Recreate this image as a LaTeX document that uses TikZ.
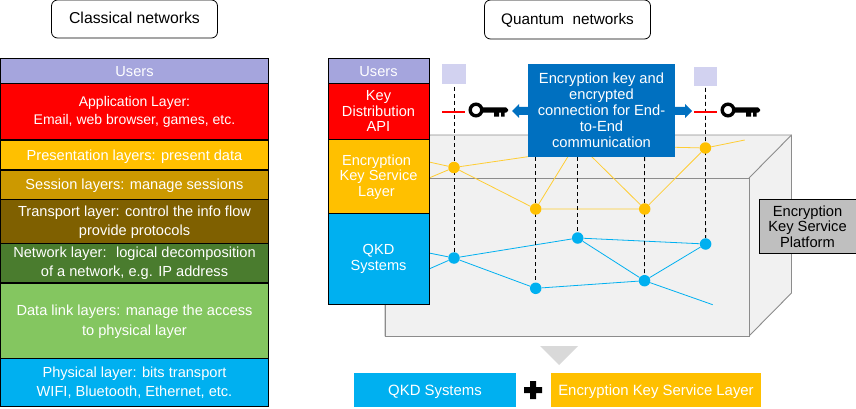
\documentclass[tikz,border=0pt]{standalone}
\usepackage{fontspec}
\setmainfont{Liberation Sans}
\pgfdeclarelayer{under}
\pgfsetlayers{under,main}
\tikzset{
 layer/.style={draw=black,line width=1pt,text=white,font=\fontsize{14.6}{18.5}\selectfont,align=center,inner sep=0pt},
 midlayer/.style={layer,font=\fontsize{14.6}{15.8}\selectfont},
 title/.style={draw=black,rounded corners=6pt,line width=0.8pt,inner sep=0pt},
 flat/.style={text=white,font=\fontsize{14.9}{18}\selectfont,align=center,inner sep=0pt},
 cube/.style={draw=cubeedge,line width=0.9pt,fill=cubefill},
 ylink/.style={draw=ylw!80!white,line width=0.8pt},
 blink/.style={draw=cyn,line width=0.8pt},
 vdash/.style={draw=black,line width=0.8pt,dash pattern=on 4pt off 3pt},
 ydot/.style={circle,fill=ylw,minimum size=11.5pt,inner sep=0pt},
 bdot/.style={circle,fill=cyn,minimum size=11.5pt,inner sep=0pt},
 ubox/.style={fill=paleu,inner sep=0pt},
 redbar/.style={draw=red,line width=1.8pt},
}
\definecolor{cubefill}{HTML}{F1F1F1}
\definecolor{cubeedge}{HTML}{8C8C8C}
\definecolor{ylw}{HTML}{FFC000}
\definecolor{cyn}{HTML}{00B0F0}
\definecolor{usr}{HTML}{A5A5DD}
\definecolor{paleu}{HTML}{D2D2F0}
\definecolor{sess}{HTML}{CC9900}
\definecolor{trans}{HTML}{7F6000}
\definecolor{netw}{HTML}{4A7C2E}
\definecolor{dlink}{HTML}{84C660}
\definecolor{blu}{HTML}{0070C0}
\definecolor{plat}{HTML}{BFBFBF}
\newcommand{\lowered}[2]{\raisebox{-#1pt}[\height][\depth]{#2}}
\newcommand{\keyicon}[2]{%
 \begin{scope}[shift={(#1,#2)}]
  \draw[black,line width=3.4pt] (8,0) circle (5.8);
  \fill[black] (14,-2.7) -- (38,-2.7) -- (40,-0.5) -- (40,1) -- (38,2.7) -- (36.5,2.7) -- (36.5,6.7) -- (33,6.7) -- (33,2.7) -- (31,2.7) -- (31,6.7) -- (26,6.7) -- (26,2.7) -- (14,2.7) -- cycle;
 \end{scope}}
\begin{document}
\begin{tikzpicture}[x=1pt,y=-1pt]
\useasboundingbox (0,0) rectangle (856,409);
% titles
\node[title,font=\fontsize{15.8}{18}\selectfont,minimum width=166pt,minimum height=38pt] (tc) at (134.5,19) {\lowered{-0.7}{Classical networks}};
\node[title,font=\fontsize{15.3}{18}\selectfont,minimum width=166pt,minimum height=39pt] (tq) at (567.5,19.5) {\lowered{0.5}{Quantum~ networks}};
% classical stack
\node[layer,fill=usr,minimum width=268pt,minimum height=25pt] (cu) at (134.5,71) {\lowered{1}{Users}};
\node[layer,fill=red,minimum width=268pt,minimum height=56pt,font=\fontsize{14}{18.5}\selectfont] (ca) at (134.5,111.5) {\lowered{0.7}{Application Layer:}\\Email, web browser, games, etc.};
\node[layer,fill=ylw,minimum width=268pt,minimum height=29pt] (cp) at (134.5,155) {\lowered{1.5}{Presentation layers: present data}};
\node[layer,fill=sess,minimum width=268pt,minimum height=29pt] (cs) at (134.5,184.5) {\lowered{1.5}{Session layers: manage sessions}};
\node[layer,fill=trans,minimum width=268pt,minimum height=44pt] (ct) at (134.5,221.5) {Transport layer: control the info flow\\\lowered{0.7}{provide protocols}};
\node[layer,fill=netw,minimum width=268pt,minimum height=39pt] (cn) at (134.5,263) {Network layer:~ logical decomposition\\of a network, e.g. IP address};
\node[layer,fill=dlink,minimum width=268pt,minimum height=75pt] (cd) at (134.5,320.5) {\lowered{0.5}{Data link layers: manage the access}\\\lowered{1.5}{to physical layer}};
\node[layer,fill=cyn,minimum width=268pt,minimum height=48pt] (cf) at (134.5,382) {Physical layer: bits transport\\\lowered{0.7}{WIFI, Bluetooth, Ethernet, etc.}};
% network dots
\node[ydot] (y1) at (454,167.5) {};
\node[ydot] (y2) at (535.7,209) {};
\node[ydot] (y3) at (644.7,209) {};
\node[ydot] (y4) at (705.4,148) {};
\node[bdot] (b1) at (454,258) {};
\node[bdot] (b2) at (535.7,288.3) {};
\node[bdot] (b3) at (577.7,238) {};
\node[bdot] (b4) at (644.5,280.7) {};
\node[bdot] (b5) at (705.6,244) {};
% cube, links and dashes lie under the nodes
\begin{pgfonlayer}{under}
\coordinate (fnw) at (385,178); \coordinate (fne) at (749,178);
\coordinate (fse) at (749,336); \coordinate (fsw) at (385,336);
\coordinate (bnw) at (430,135); \coordinate (bne) at (791.5,135); \coordinate (bse) at (791.5,293);
\path[cube] (fnw) -- (bnw) -- (bne) -- (bse) -- (fse) -- (fsw) -- cycle;
\draw[cube] (fnw) rectangle (fse);
\draw[cube] (fne) -- (bne);
\coordinate (y0a) at (429,162); \coordinate (y0b) at (429,178);
\coordinate (ye) at (744.7,140);
\coordinate (kbl) at (560,152); \coordinate (kbb) at (572,150);
\coordinate (kbc) at (590,155); \coordinate (kbr) at (675,147.3);
\draw[ylink] (y0a) -- (y1) -- (y2) -- (y3) -- (y4) -- (ye);
\draw[ylink] (y0b) -- (y1) -- (kbl);
\draw[ylink] (y2) -- (kbb);
\draw[ylink] (y3) -- (kbc);
\draw[ylink] (kbr) -- (y4);
\coordinate (b0a) at (429,253); \coordinate (b0b) at (429,269);
\coordinate (be) at (712.7,304.7);
\draw[blink] (b0a) -- (b1) -- (b2) -- (b4) -- (be);
\draw[blink] (b0b) -- (b1) -- (b3) -- (b5) -- (b4) -- (b3);
\coordinate (u1) at (454,87); \coordinate (u2) at (705.5,88);
\coordinate (k1) at (535.7,150); \coordinate (k2) at (577.7,150); \coordinate (k3) at (644.6,150);
\draw[vdash] (u1) -- (b1);
\draw[vdash] (u2) -- (b5);
\draw[vdash] (k1) -- (b2);
\draw[vdash] (k2) -- (b3);
\draw[vdash] (k3) -- (b4);
\end{pgfonlayer}
% middle stack
\node[layer,fill=usr,minimum width=101pt,minimum height=25pt] (mu) at (378.5,71) {\lowered{1}{Users}};
\node[midlayer,fill=red,minimum width=101pt,minimum height=56pt] (ma) at (378.5,111.5) {Key\\\lowered{-0.5}{Distribution}\\\lowered{-0.7}{API}};
\node[midlayer,fill=ylw,minimum width=101pt,minimum height=74pt] (me) at (378.5,176.5) {\lowered{0.7}{Encryption}\hspace*{4pt}\\Key Service\hspace*{4pt}\\Layer\hspace*{4pt}};
\node[midlayer,fill=cyn,minimum width=101pt,minimum height=91pt,font=\fontsize{14.6}{17}\selectfont] (mq) at (378.5,258.5) {\lowered{0.7}{QKD}\\Systems};
% user squares, keys
\node[ubox,minimum width=24pt,minimum height=20pt] (s1) at (454,74) {};
\node[ubox,minimum width=23pt,minimum height=19pt] (s2) at (705.5,76.5) {};
\coordinate (r1a) at (442,112); \coordinate (r1b) at (465,112);
\coordinate (r2a) at (694,112); \coordinate (r2b) at (717,112);
\draw[redbar] (r1a) -- (r1b);
\draw[redbar] (r2a) -- (r2b);
\keyicon{468}{110}
\keyicon{720}{110}
% blue box and arrows
\fill[blu] (528,107) -- (519,107) -- (519,104) -- (512,111) -- (519,118) -- (519,115) -- (528,115) -- cycle;
\fill[blu] (675,107) -- (685,107) -- (685,104) -- (692,111) -- (685,118) -- (685,115) -- (675,115) -- cycle;
\node[flat,fill=blu,minimum width=147pt,minimum height=93pt,font=\fontsize{14.7}{16}\selectfont] (kb) at (601.5,110.5) {Encryption key and\\encrypted\\connection for End-\\to-End\\communication};
% platform
\node[draw=black,line width=0.8pt,fill=plat,minimum width=97pt,minimum height=54pt,align=center,inner sep=0pt,font=\fontsize{14.7}{15.6}\selectfont] (pl) at (807.5,226) {\lowered{0.7}{Encryption}\\Key Service\\\lowered{0.7}{Platform}};
% bottom
\fill[black!15] (540,346) -- (578,346) -- (559,365) -- cycle;
\node[flat,fill=cyn,minimum width=162pt,minimum height=34pt] (q) at (435,390) {\lowered{2}{QKD Systems}};
\node[flat,fill=ylw,minimum width=210pt,minimum height=34pt] (ek) at (656,390) {\lowered{2}{Encryption Key Service Layer}};
\fill[black] (530,381) -- ++(6,0) -- ++(0,6) -- ++(6,0) -- ++(0,6) -- ++(-6,0) -- ++(0,6) -- ++(-6,0) -- ++(0,-6) -- ++(-6,0) -- ++(0,-6) -- ++(6,0) -- cycle;
\end{tikzpicture}
\end{document}
